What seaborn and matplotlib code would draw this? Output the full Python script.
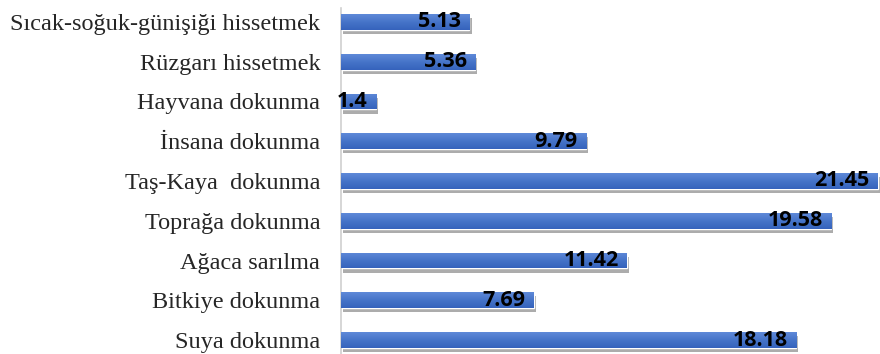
import numpy as np
import pandas as pd
import seaborn as sns
import matplotlib.pyplot as plt
import matplotlib.patheffects as pe
from matplotlib.colors import LinearSegmentedColormap

categories = ["Sıcak-soğuk-günişiği hissetmek", "Rüzgarı hissetmek", "Hayvana dokunma",
              "İnsana dokunma", "Taş-Kaya  dokunma", "Toprağa dokunma", "Ağaca sarılma",
              "Bitkiye dokunma", "Suya dokunma"]
values = [5.13, 5.36, 1.4, 9.79, 21.45, 19.58, 11.42, 7.69, 18.18]
value_labels = ["5.13", "5.36", "1.4", "9.79", "21.45", "19.58", "11.42", "7.69", "18.18"]

df = pd.DataFrame({"activity": categories, "value": values})

sns.set_style("white")
fig = plt.figure(figsize=(8.8, 3.54), dpi=100)
ax = fig.add_axes([341 / 880, 0, 539 / 880, 1])

sns.barplot(data=df, x="value", y="activity", color="#4472C4", width=0.4,
            saturation=1, ax=ax)

# gradient fill + soft shadow like the office chart
grad = LinearSegmentedColormap.from_list("g", ["#5f89d8", "#4674c8", "#3663bc"])
for bar in ax.patches:
    bar.set_path_effects([pe.SimplePatchShadow(offset=(1.5, -3), shadow_rgbFace="#303030",
                                               alpha=0.4), pe.Normal()])
    x0, y0 = bar.get_x(), bar.get_y()
    w, h = bar.get_width(), bar.get_height()
    img = ax.imshow(np.linspace(0, 1, 50).reshape(-1, 1), cmap=grad, aspect="auto",
                    extent=(x0, x0 + w, y0 + h, y0), interpolation="bilinear", zorder=3)
    img.set_clip_path(bar)

for bar, lab in zip(ax.patches, value_labels):
    ax.annotate(lab, (bar.get_width(), bar.get_y() + bar.get_height() / 2),
                xytext=(-6, 0), textcoords="offset points", ha="right", va="center",
                fontsize=15.5, fontweight="bold", family="Open Sans", color="black",
                zorder=5)

ax.set_xlim(0, 21.53)
ax.set_ylim(8.352, -0.553)
ax.set_xlabel("")
ax.set_ylabel("")
ax.set_xticks([])
ax.tick_params(axis="y", length=0, pad=15)
for lab in ax.get_yticklabels():
    lab.set_fontfamily("Liberation Serif")
    lab.set_fontsize(17.5)
sns.despine(ax=ax, top=True, right=True, bottom=True)
ax.spines["left"].set_color("#d0d0d0")
ax.spines["left"].set_linewidth(1.2)
ax.spines["left"].set_bounds(8.352, -0.35)

fig.savefig("out.png", dpi=100)
